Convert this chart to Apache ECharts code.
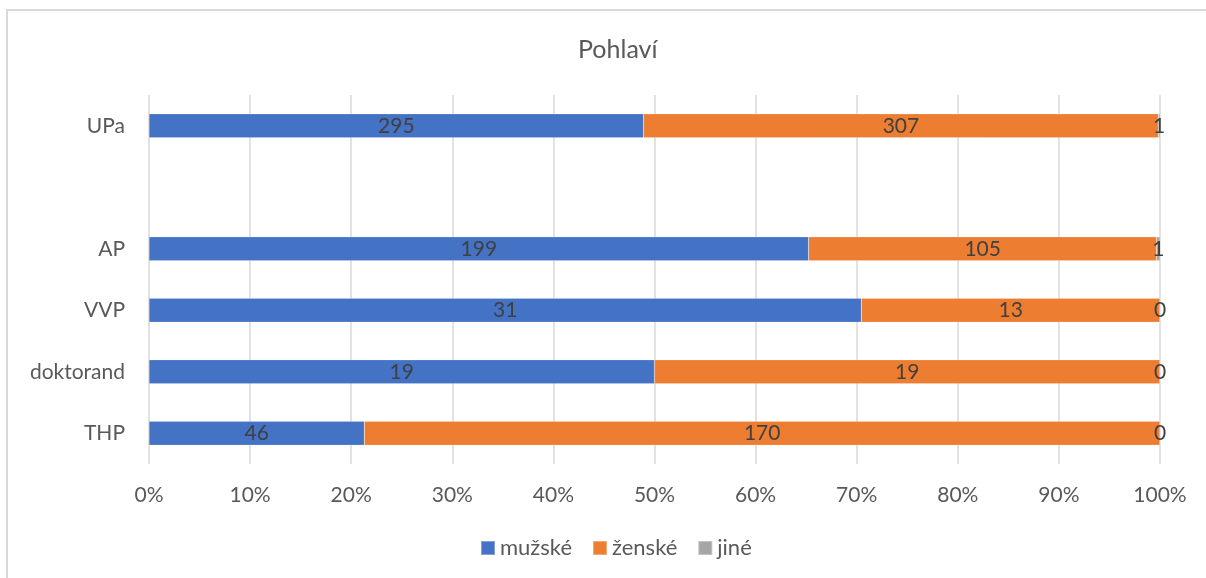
<!DOCTYPE html>
<html>
<head>
<meta charset="utf-8">
<title>Pohlaví</title>
<script src="https://cdn.jsdelivr.net/npm/echarts@6/dist/echarts.min.js"></script>
<style>
  html, body { margin: 0; padding: 0; background: #ffffff; }
  #chart { width: 1206px; height: 578px; }
</style>
</head>
<body>
<div id="chart"></div>
<script>
// Groups, top to bottom (the blank entry leaves an empty row)
const categories = ['UPa', '', 'AP', 'VVP', 'doktorand', 'THP'];
const seriesNames = ['mužské', 'ženské', 'jiné'];
// Head counts per group
const muzske = [295, null, 199, 31, 19, 46];
const zenske = [307, null, 105, 13, 19, 170];
const jine   = [1,   null, 1,   0,  0,  0];
const xTicks = [0, 10, 20, 30, 40, 50, 60, 70, 80, 90, 100];

const counts = [muzske, zenske, jine];
const colors = ['#4472C4', '#ED7D31', '#A5A5A5'];
const FONT = 'Lato, "Noto Sans", sans-serif';

// Share of each group in percent (100 % stacked)
const totals = categories.map((_, i) =>
  counts.reduce((s, arr) => s + (arr[i] == null ? 0 : arr[i]), 0));
const shares = counts.map(arr => arr.map((v, i) =>
  v == null ? null : (totals[i] ? v / totals[i] * 100 : 0)));

const chart = echarts.init(document.getElementById('chart'), null, { renderer: 'canvas' });

chart.setOption({
  backgroundColor: '#ffffff',
  animation: false,
  graphic: [{
    // chart frame: top and left edges
    type: 'polyline',
    shape: { points: [[7, 600], [7, 10], [1220, 10]] },
    style: { fill: null, stroke: '#d9d9d9', lineWidth: 2 },
    silent: true,
    z: -10
  }],
  title: {
    text: 'Pohlaví',
    left: 573,
    top: 32,
    textStyle: { fontFamily: FONT, fontSize: 25, fontWeight: 'normal', color: '#595959' }
  },
  legend: {
    data: seriesNames,
    bottom: 14,
    left: 475,
    itemWidth: 14,
    itemHeight: 14,
    itemGap: 20,
    icon: 'rect',
    textStyle: { fontFamily: FONT, fontSize: 22, color: '#595959' }
  },
  grid: { left: 149, right: 46, top: 95, bottom: 114, containLabel: false },
  xAxis: {
    type: 'value',
    min: xTicks[0],
    max: xTicks[xTicks.length - 1],
    interval: xTicks[1] - xTicks[0],
    axisLine: { show: false },
    axisTick: { show: false },
    axisLabel: {
      formatter: '{value}%',
      margin: 21,
      fontFamily: FONT, fontSize: 21, color: '#595959'
    },
    splitLine: { show: true, lineStyle: { color: '#d9d9d9', width: 1.5 } }
  },
  yAxis: {
    type: 'category',
    data: categories,
    inverse: true,
    axisLine: { show: false },
    axisTick: { show: false },
    axisLabel: { margin: 24, fontFamily: FONT, fontSize: 21, color: '#595959' },
    splitLine: { show: false }
  },
  series: seriesNames.map((name, k) => ({
    name: name,
    type: 'bar',
    stack: 'total',
    barWidth: '39%',
    data: shares[k],
    itemStyle: { color: colors[k], borderColor: 'rgba(255,255,255,0.35)', borderWidth: 0.5 },
    label: {
      show: true,
      position: 'inside',
      formatter: p => counts[k][p.dataIndex] == null ? '' : String(counts[k][p.dataIndex]),
      fontFamily: FONT, fontSize: 21, color: '#404040'
    }
  }))
});
</script>
</body>
</html>
